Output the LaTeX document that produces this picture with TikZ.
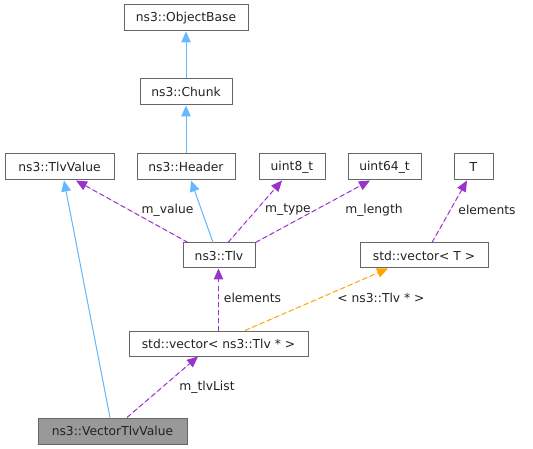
\documentclass[tikz,border=0pt]{standalone}
\usepackage{fontspec}
\setmainfont{DejaVu Sans}
\usetikzlibrary{arrows.meta}
\definecolor{boxline}{HTML}{666666}
\definecolor{inhblue}{HTML}{63B8FF}
\definecolor{usepurple}{HTML}{9A32CD}
\definecolor{tplorange}{HTML}{FFA500}
\definecolor{selfill}{HTML}{999999}
\definecolor{txt}{HTML}{222222}
\tikzset{
  cls/.style={draw=boxline, line width=1pt, fill=white, inner sep=0pt, minimum height=26pt, text=txt, font=\fontsize{12.3}{14}\selectfont},
  lbl/.style={inner sep=0pt, text=txt, font=\fontsize{12.3}{14}\selectfont},
  inh/.style={draw=inhblue, line width=1pt, -{Triangle[length=11pt,width=9.5pt]}, fill=inhblue},
  use/.style={draw=usepurple, line width=1pt, dash pattern=on 5pt off 3pt, -{Triangle[length=11pt,width=9.5pt]}, fill=usepurple},
  tpl/.style={draw=tplorange, line width=1pt, dash pattern=on 5pt off 3pt, -{Triangle[length=11pt,width=9.5pt]}, fill=tplorange},
}
\begin{document}
\begin{tikzpicture}[x=1pt,y=-1pt]
\useasboundingbox[fill=white] (0,0) rectangle (533,449);
\node[cls, minimum width=124pt] (objbase) at (186,18) {ns3::ObjectBase};
\node[cls, minimum width=92pt] (chunk) at (186,92) {ns3::Chunk};
\node[cls, minimum width=109pt] (tlvvalue) at (59.5,167) {ns3::TlvValue};
\node[cls, minimum width=98pt] (header) at (186,167) {ns3::Header};
\node[cls, minimum width=66pt] (uinteight) at (292,167) {uint8\_t};
\node[cls, minimum width=73pt] (uintsixfour) at (384.5,167) {uint64\_t};
\node[cls, minimum width=39pt] (tt) at (473.5,167) {T};
\node[cls, minimum width=72pt, minimum height=25pt] (tlv) at (219,255.5) {ns3::Tlv};
\node[cls, minimum width=128pt, minimum height=25pt] (vect) at (424,255.5) {std::vector< T >};
\node[cls, minimum width=179pt, minimum height=25pt] (vectlv) at (218.5,343.5) {std::vector< ns3::Tlv * >};
\node[cls, fill=selfill, minimum width=149pt] (vtv) at (112.5,431) {ns3::VectorTlvValue};

\draw[inh] (chunk.north) -- (objbase.south);
\draw[inh] (header.north) -- (chunk.south);
\draw[inh] ([xshift=-6pt]tlv.north) -- ([xshift=5pt]header.south);
\draw[inh] ([xshift=-2.5pt]vtv.north) -- ([xshift=4.5pt]tlvvalue.south);

\draw[use] ([xshift=-31pt]tlv.north) -- ([xshift=16.5pt]tlvvalue.south);
\draw[use] ([xshift=9pt]tlv.north) -- ([xshift=-10pt]uinteight.south);
\draw[use] (tlv.north east) -- ([xshift=-14.5pt]uintsixfour.south);
\draw[use] ([xshift=8pt]vect.north) -- ([xshift=-6.5pt]tt.south);
\draw[use] (vectlv.north) -- ([xshift=-0.5pt]tlv.south);
\draw[use] ([xshift=14.5pt]vtv.north) -- ([xshift=-20.5pt]vectlv.south);
\draw[tpl] ([xshift=26.5pt]vectlv.north) -- ([xshift=-36pt]vect.south);

\node[lbl] (lvalue) at (167.5,210) {m\_value};
\node[lbl] (ltype) at (288,210) {m\_type};
\node[lbl] (llength) at (374,210) {m\_length};
\node[lbl] (lelemt) at (487,210) {elements};
\node[lbl] (lelemtlv) at (252.5,298) {elements};
\node[lbl] (ltplarg) at (381,298) {< ns3::Tlv * >};
\node[lbl] (llist) at (207,387) {m\_tlvList};
\end{tikzpicture}
\end{document}
